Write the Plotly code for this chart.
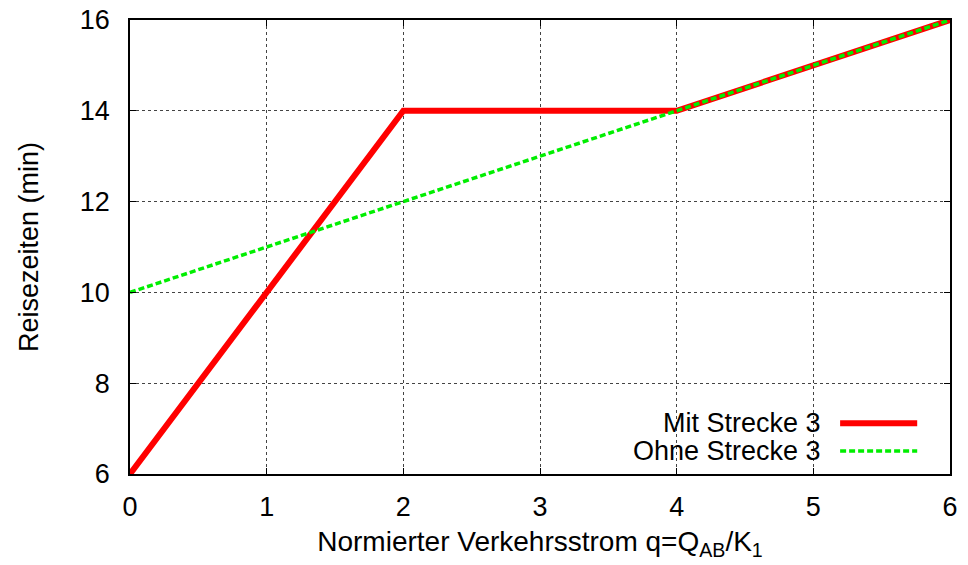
import plotly.graph_objects as go

# data
mit_x = [0, 2, 4, 6]
mit_y = [6, 14, 14, 16]
ohne_x = [0, 6]
ohne_y = [10, 16]
x_ticks = [0, 1, 2, 3, 4, 5, 6]
y_ticks = [6, 8, 10, 12, 14, 16]
names = ["Mit Strecke 3", "Ohne Strecke 3"]

FONT = "Liberation Sans, Arial, sans-serif"
FS = 27
GREEN = "#00ee00"
RED = "#ff0000"
DASH = "6px,3px"

fig = go.Figure()
fig.add_trace(go.Scatter(x=mit_x, y=mit_y, mode="lines", name=names[0],
                         line=dict(color=RED, width=6), showlegend=False))
fig.add_trace(go.Scatter(x=ohne_x, y=ohne_y, mode="lines", name=names[1],
                         line=dict(color=GREEN, width=3.5, dash=DASH), showlegend=False))

axis_common = dict(showline=True, linecolor="black", linewidth=1.5, mirror="ticks",
                   ticks="inside", ticklen=6, tickcolor="black", tickwidth=1,
                   showgrid=True, gridcolor="#444", griddash="dot", gridwidth=1,
                   zeroline=False, automargin=False,
                   tickfont=dict(family=FONT, size=FS, color="black"))

fig.update_xaxes(range=[0, 6], tickvals=x_ticks, ticklabelstandoff=8,
                 title=dict(text="Normierter Verkehrsstrom q=Q<sub>AB</sub>/K<sub>1</sub>",
                            font=dict(family=FONT, size=28, color="black"), standoff=10),
                 **axis_common)
fig.update_yaxes(range=[6, 16], tickvals=y_ticks, ticklabelstandoff=13,
                 title=dict(text="Reisezeiten (min)",
                            font=dict(family=FONT, size=FS, color="black"), standoff=33),
                 **axis_common)

# legend box (opaque, hides grid) in gnuplot style: text left, sample right
fig.add_shape(type="rect", xref="paper", yref="paper", x0=0.598, x1=0.97,
              y0=0.013, y1=0.148, fillcolor="white", line=dict(width=0), layer="between")
leg_y = [0.112, 0.0507]
colors = [RED, GREEN]
widths = [6, 3.5]
dashes = ["solid", DASH]
for i in range(2):
    fig.add_annotation(xref="paper", yref="paper", x=0.845, y=leg_y[i], text=names[i],
                       showarrow=False, xanchor="right", yanchor="middle",
                       font=dict(family=FONT, size=FS, color="black"))
    fig.add_shape(type="line", xref="paper", yref="paper", x0=0.866, x1=0.96,
                  y0=leg_y[i], y1=leg_y[i],
                  line=dict(color=colors[i], width=widths[i], dash=dashes[i]))

fig.update_layout(width=968, height=565, margin=dict(l=130, r=18, t=20, b=91),
                  plot_bgcolor="white", paper_bgcolor="white",
                  font=dict(family=FONT, size=FS, color="black"))

fig.write_html("out.html", config={"displayModeBar": False},
               post_script="document.body.style.margin='0';")
